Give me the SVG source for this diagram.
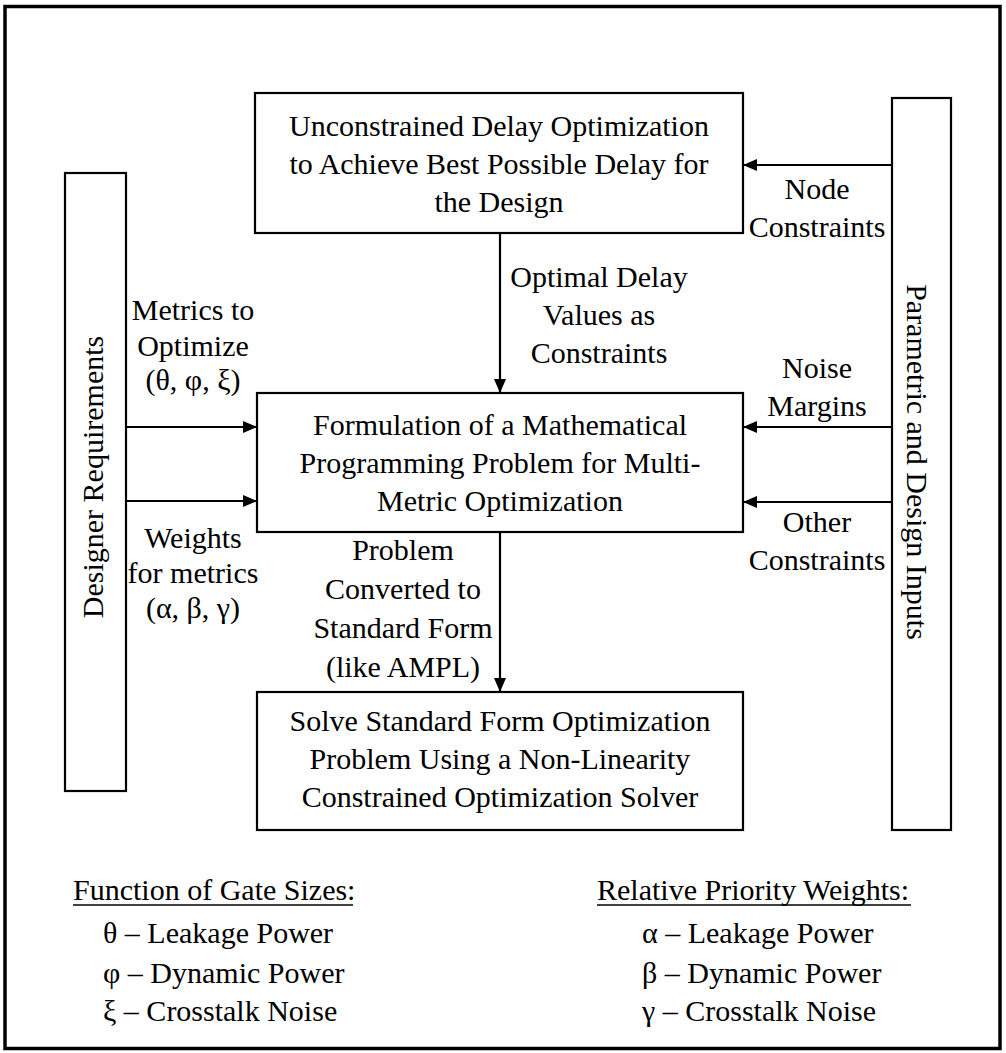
<svg xmlns="http://www.w3.org/2000/svg" width="1006" height="1053" viewBox="0 0 1006 1053">
<style>
text{font-family:"Liberation Serif","Times New Roman",serif;font-size:30px;fill:#000}
.c{text-anchor:middle}
.box{fill:#fff;stroke:#000;stroke-width:2.2}
.con{stroke:#000;stroke-width:2.2;fill:none}
</style>
<defs>
<marker id="ah" markerUnits="userSpaceOnUse" markerWidth="14" markerHeight="12" viewBox="0 0 14 12" refX="14" refY="6" orient="auto">
<path d="M0,0 L14,6 L0,12 z" fill="#000"/>
</marker>
</defs>
<rect x="0" y="0" width="1006" height="1053" fill="#fff"/>
<rect id="frame" x="5" y="6.5" width="995" height="1042" fill="none" stroke="#000" stroke-width="3.5"/>

<g id="connectors">
<line class="con" x1="500" y1="233" x2="500" y2="393" marker-end="url(#ah)"/>
<line class="con" x1="500" y1="532" x2="500" y2="692" marker-end="url(#ah)"/>
<line class="con" x1="126" y1="427" x2="257" y2="427" marker-end="url(#ah)"/>
<line class="con" x1="126" y1="501" x2="257" y2="501" marker-end="url(#ah)"/>
<line class="con" x1="892" y1="165" x2="743" y2="165" marker-end="url(#ah)"/>
<line class="con" x1="892" y1="427" x2="743" y2="427" marker-end="url(#ah)"/>
<line class="con" x1="892" y1="502" x2="743" y2="502" marker-end="url(#ah)"/>
<text class="c" x="599" y="287">Optimal Delay</text>
<text class="c" x="599" y="325">Values as</text>
<text class="c" x="599" y="363">Constraints</text>
<text class="c" x="403" y="560">Problem</text>
<text class="c" x="403" y="599">Converted to</text>
<text class="c" x="403" y="638">Standard Form</text>
<text class="c" x="403" y="677">(like AMPL)</text>
<text class="c" x="193" y="320">Metrics to</text>
<text class="c" x="193" y="356">Optimize</text>
<text class="c" x="193" y="390">(θ, φ, ξ)</text>
<text class="c" x="193" y="548">Weights</text>
<text class="c" x="193" y="583">for metrics</text>
<text class="c" x="193" y="618">(α, β, γ)</text>
<text class="c" x="817" y="199">Node</text>
<text class="c" x="817" y="237">Constraints</text>
<text class="c" x="817" y="378">Noise</text>
<text class="c" x="817" y="416">Margins</text>
<text class="c" x="817" y="532">Other</text>
<text class="c" x="817" y="570">Constraints</text>
</g>

<g id="unconstrained">
<rect class="box" x="255" y="93" width="488" height="140"/>
<text class="c" x="499" y="136">Unconstrained Delay Optimization</text>
<text class="c" x="499" y="174">to Achieve Best Possible Delay for</text>
<text class="c" x="499" y="212">the Design</text>
</g>

<g id="formulation">
<rect class="box" x="257" y="393" width="486" height="139"/>
<text class="c" x="500" y="435">Formulation of a Mathematical</text>
<text class="c" x="500" y="473">Programming Problem for Multi-</text>
<text class="c" x="500" y="511">Metric Optimization</text>
</g>

<g id="solve">
<rect class="box" x="257" y="692" width="486" height="138"/>
<text class="c" x="500" y="731">Solve Standard Form Optimization</text>
<text class="c" x="500" y="769">Problem Using a Non-Linearity</text>
<text class="c" x="500" y="807">Constrained Optimization Solver</text>
</g>

<g id="designer">
<rect class="box" x="65" y="173" width="61" height="618"/>
<text class="c" transform="translate(103,477) rotate(-90)">Designer Requirements</text>
</g>

<g id="parametric">
<rect class="box" x="892" y="98" width="59" height="732"/>
<text class="c" transform="translate(907,462) rotate(90)">Parametric and Design Inputs</text>
</g>

<g id="legend-left">
<text x="73" y="900">Function of Gate Sizes:</text>
<line x1="73" y1="905" x2="353" y2="905" stroke="#000" stroke-width="1.5"/>
<text x="103" y="943">θ – Leakage Power</text>
<text x="103" y="983">φ – Dynamic Power</text>
<text x="103" y="1021">ξ – Crosstalk Noise</text>
</g>

<g id="legend-right">
<text x="597" y="900">Relative Priority Weights:</text>
<line x1="597" y1="905" x2="911" y2="905" stroke="#000" stroke-width="1.5"/>
<text x="642" y="943">α – Leakage Power</text>
<text x="642" y="983">β – Dynamic Power</text>
<text x="642" y="1021">γ – Crosstalk Noise</text>
</g>
</svg>
